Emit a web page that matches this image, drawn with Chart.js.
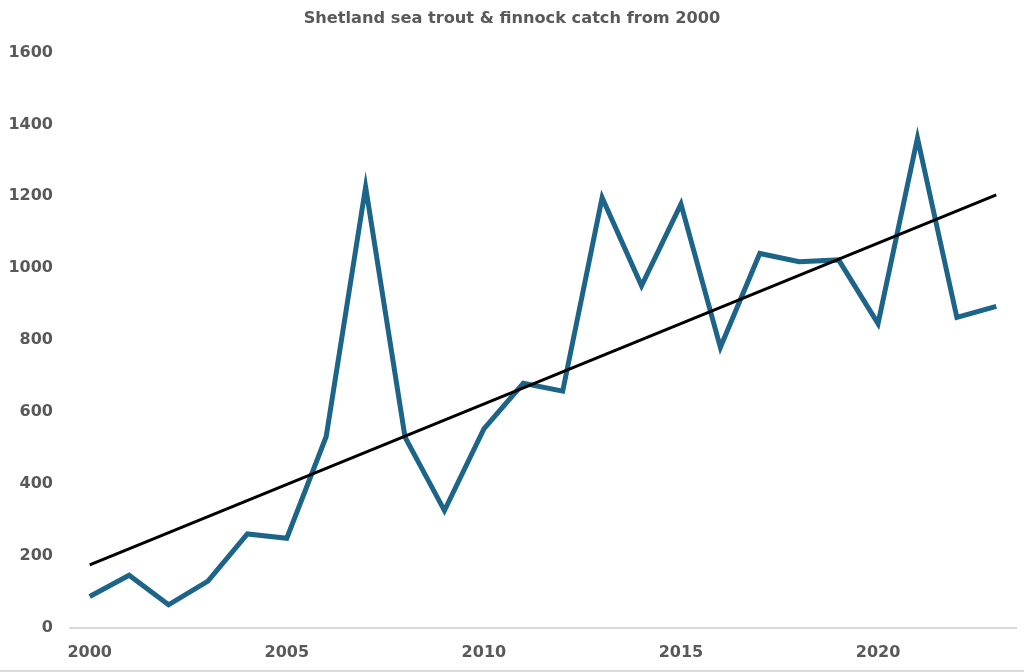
<!DOCTYPE html>
<html>
<head>
<meta charset="utf-8">
<script src="https://cdn.jsdelivr.net/npm/chart.js@4/dist/chart.umd.min.js"></script>
<style>
  html, body { margin: 0; padding: 0; background: #ffffff; overflow: hidden; }
  #wrap { position: relative; width: 1024px; height: 672px; }
  #line { position: absolute; left: 0; top: 670px; width: 1024px; height: 2px; background: #d9d9d9; }
</style>
</head>
<body>
<div id="wrap"><canvas id="c" width="1024" height="672"></canvas><div id="line"></div></div>
<script>
const years = ['2000','2001','2002','2003','2004','2005','2006','2007','2008','2009','2010','2011',
               '2012','2013','2014','2015','2016','2017','2018','2019','2020','2021','2022','2023'];
const catchValues = [87, 146, 64, 130, 261, 249, 532, 1226, 530, 326, 553, 680,
                     658, 1196, 951, 1178, 780, 1041, 1018, 1023, 846, 1362, 863, 894];
// linear trend line: only its two end values
const trendValues = [175, null, null, null, null, null, null, null, null, null, null, null,
                     null, null, null, null, null, null, null, null, null, null, null, 1204];
const shownYearLabels = ['2000','2005','2010','2015','2020'];
const yTicks = [0, 200, 400, 600, 800, 1000, 1200, 1400, 1600];
const titleText = 'Shetland sea trout & finnock catch from 2000';

const tickFont = { family: '"DejaVu Sans", sans-serif', size: 16, weight: 'bold' };
const grey = '#595959';

new Chart(document.getElementById('c'), {
  type: 'line',
  data: {
    labels: years,
    datasets: [
      {
        label: 'Catch',
        data: catchValues,
        borderColor: '#1d6588',
        borderWidth: 5,
        pointRadius: 0,
        tension: 0,
        borderJoinStyle: 'miter',
        borderCapStyle: 'butt',
        order: 2
      },
      {
        label: 'Trend',
        data: trendValues,
        borderColor: '#000000',
        borderWidth: 3,
        pointRadius: 0,
        spanGaps: true,
        tension: 0,
        order: 1
      }
    ]
  },
  options: {
    responsive: false,
    animation: false,
    layout: { padding: { left: 8, right: 8, top: 0, bottom: -5 } },
    plugins: {
      legend: { display: false },
      tooltip: { enabled: false },
      title: {
        display: true,
        text: titleText,
        color: grey,
        font: { family: '"DejaVu Sans", sans-serif', size: 16.2, weight: 'bold' },
        padding: { top: 9, bottom: 24 }
      }
    },
    scales: {
      x: {
        type: 'category',
        offset: true,
        grid: { display: false, drawTicks: false },
        border: { display: true, color: '#d9d9d9', width: 2 },
        ticks: {
          autoSkip: false,
          maxRotation: 0,
          color: grey,
          font: tickFont,
          padding: 15,
          callback: function (v, i) {
            const lab = years[i];
            return shownYearLabels.includes(lab) ? lab : '';
          }
        }
      },
      y: {
        min: 0,
        max: 1600,
        afterBuildTicks: function (axis) { axis.ticks = yTicks.map(v => ({ value: v })); },
        afterFit: function (scale) { scale.width = 62; },
        grid: { display: false, drawTicks: false },
        border: { display: false },
        ticks: {
          color: grey,
          font: tickFont,
          padding: 17,
          callback: function (v) { return String(v); }
        }
      }
    }
  }
});
</script>
</body>
</html>
